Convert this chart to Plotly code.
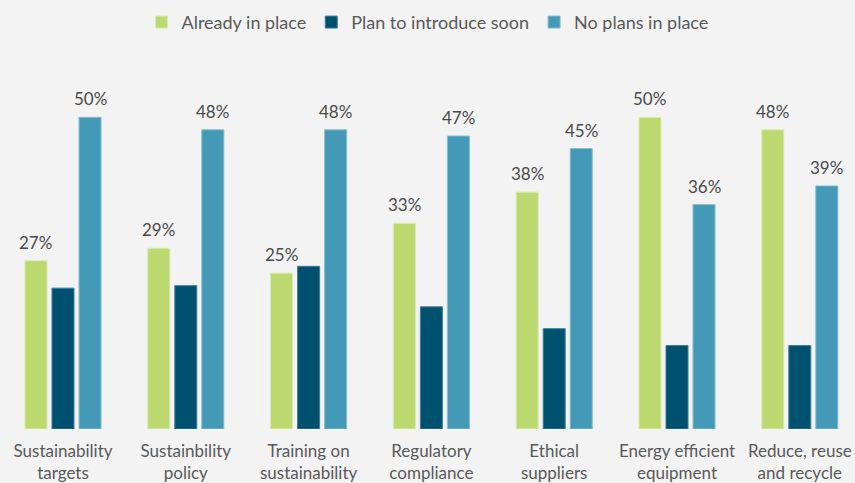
import plotly.graph_objects as go

categories = ["Sustainability<br>targets", "Sustainbility<br>policy", "Training on<br>sustainability",
              "Regulatory<br>compliance", "Ethical<br>suppliers", "Energy efficient<br>equipment",
              "Reduce, reuse<br>and recycle"]
already = [27, 29, 25, 33, 38, 50, 48]
plan_soon = [22.6, 23.0, 26.1, 19.6, 16.1, 13.4, 13.4]
no_plans = [50, 48, 48, 47, 45, 36, 39]

W, H = 855, 483
unit_px = 122.8          # px per category
x0 = -63 / unit_px
x_range = [x0, x0 + W / unit_px]
bargap = 0.34
slot_px = (1 - bargap) / 3 * unit_px

fig = go.Figure()
fig.add_trace(go.Bar(name="Already in place", x=categories, y=already,
                     marker=dict(color="#bbd96e", line=dict(color="#dcebb0", width=1))))
fig.add_trace(go.Bar(name="Plan to introduce soon", x=categories, y=plan_soon,
                     marker=dict(color="#005070", line=dict(color="#3f7f99", width=1))))
fig.add_trace(go.Bar(name="No plans in place", x=categories, y=no_plans,
                     marker=dict(color="#4499b7", line=dict(color="#86bdd1", width=1))))

# value labels above the green and light-blue bars
for vals, shift in [(already, -slot_px), (no_plans, slot_px)]:
    for c, v in zip(categories, vals):
        fig.add_annotation(x=c, y=v, text=f"{v}%", showarrow=False, xshift=shift,
                           yanchor="bottom", yshift=6,
                           font=dict(family="Lato", size=17, color="#4a4a4a"))

fig.update_layout(
    width=W, height=H,
    barmode="group", bargap=bargap, bargroupgap=0.185,
    paper_bgcolor="#f3f3f3", plot_bgcolor="#f3f3f3",
    font=dict(family="Lato", size=17, color="#595959"),
    margin=dict(l=0, r=0, t=60, b=51),
    showlegend=True,
    legend=dict(orientation="h", x=0.5, xanchor="center", y=0.992, yanchor="top",
                yref="container", font=dict(size=18, color="#595959"), traceorder="normal"),
    xaxis=dict(range=x_range, showgrid=False, showline=False, ticks="", ticklabelstandoff=10,
               tickfont=dict(size=17, color="#595959")),
    yaxis=dict(range=[0, 59.2], visible=False),
)

# drop the default 8px body margin so the figure fills the window exactly
fig.write_html("out.html", config={"displayModeBar": False},
               post_script="document.body.style.margin='0';document.body.style.overflow='hidden';")
